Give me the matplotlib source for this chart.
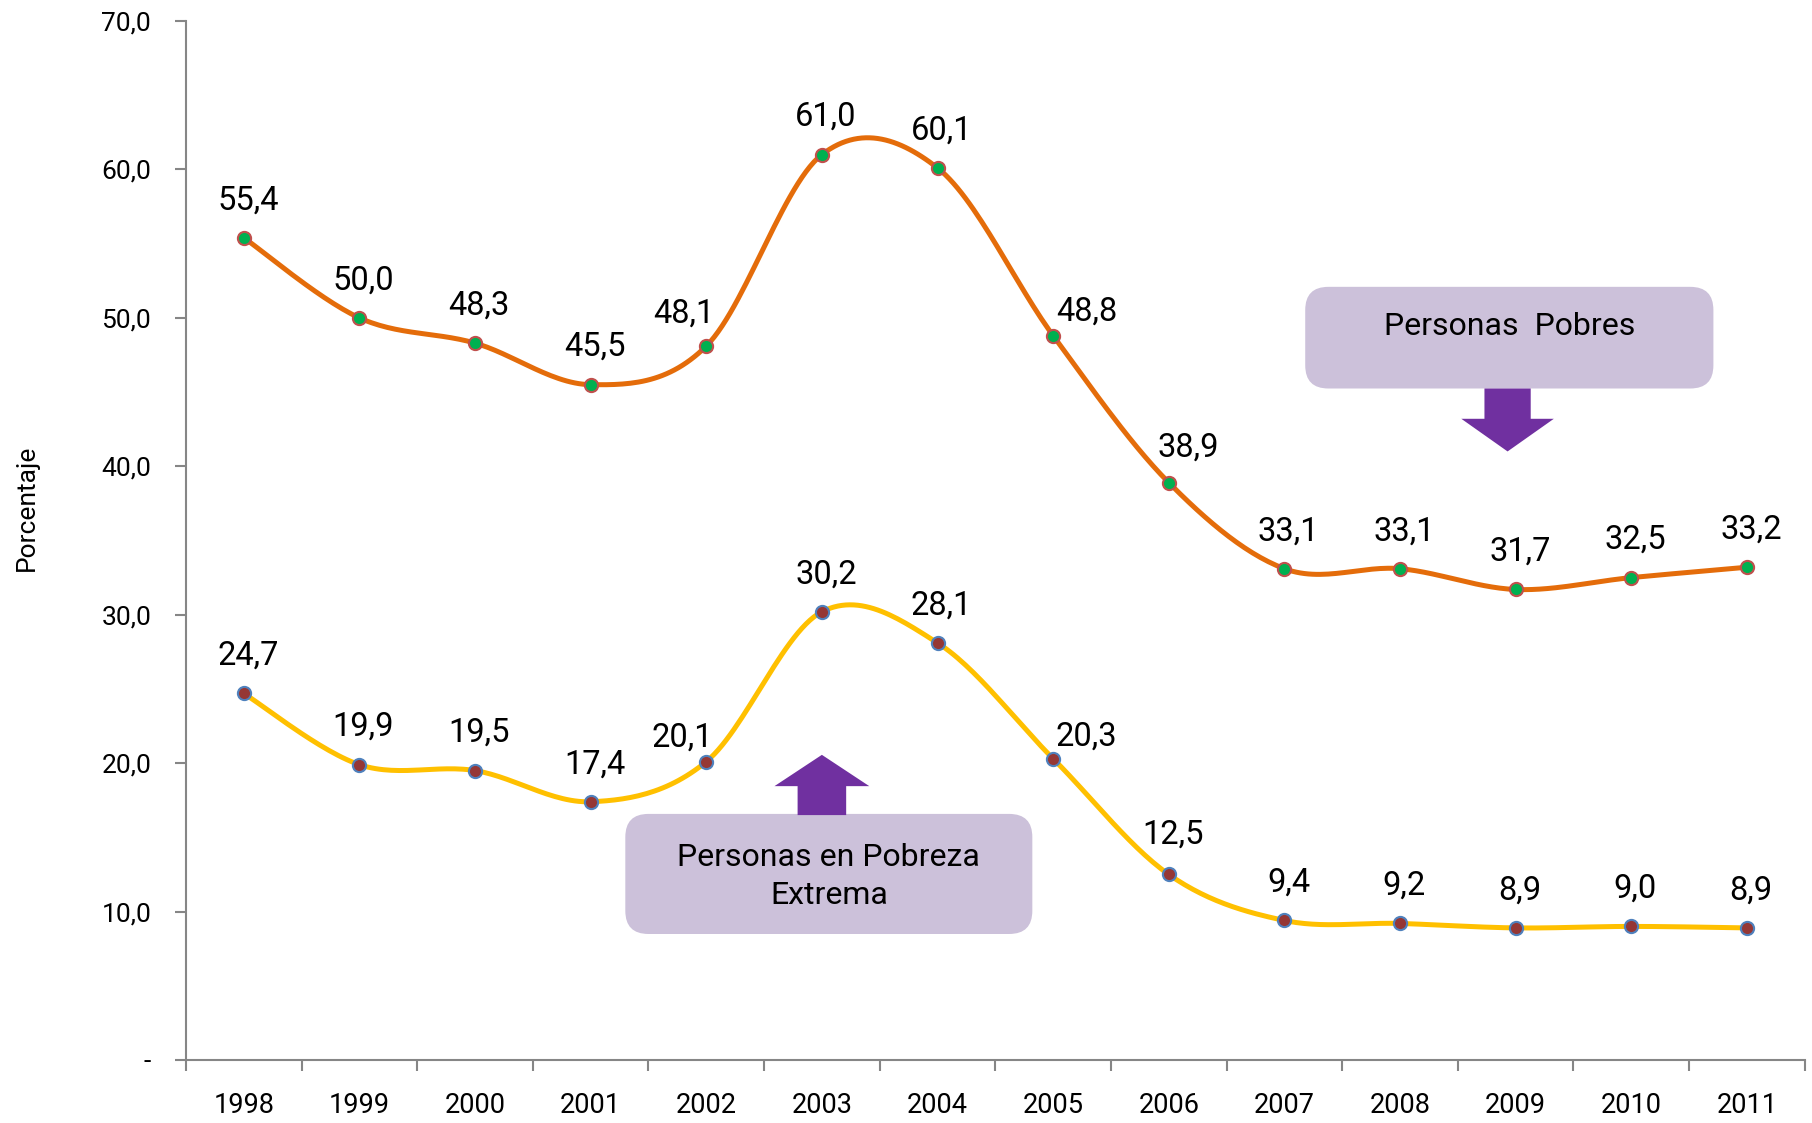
import numpy as np
import matplotlib
matplotlib.use("Agg")
import matplotlib.pyplot as plt
from matplotlib import font_manager
from matplotlib.patches import FancyBboxPatch, Polygon

years = ["1998", "1999", "2000", "2001", "2002", "2003", "2004",
         "2005", "2006", "2007", "2008", "2009", "2010", "2011"]
pobres = [55.4, 50.0, 48.3, 45.5, 48.1, 61.0, 60.1, 48.8, 38.9, 33.1, 33.1, 31.7, 32.5, 33.2]
extrema = [24.7, 19.9, 19.5, 17.4, 20.1, 30.2, 28.1, 20.3, 12.5, 9.4, 9.2, 8.9, 9.0, 8.9]
ytick_vals = [0, 10, 20, 30, 40, 50, 60, 70]
ytick_labels = ["-", "10,0", "20,0", "30,0", "40,0", "50,0", "60,0", "70,0"]

# label offsets (points), hand-placed like in the original
off_pobres = [(3, 27)] * 14
off_pobres[4] = (-16, 23)
off_pobres[7] = (24, 17)
off_pobres[8] = (14, 25)
off_extrema = [(3, 27)] * 14
off_extrema[4] = (-17, 17)
off_extrema[7] = (24, 16)
off_extrema[8] = (3, 29)

names = {f.name for f in font_manager.fontManager.ttflist}
if "Liberation Sans Narrow" in names:
    plt.rcParams["font.family"] = ["Liberation Sans Narrow", "DejaVu Sans"]
else:
    plt.rcParams["font.family"] = ["Roboto", "DejaVu Sans"]


def smooth(y, n=30):
    # bezier smoothing through every point, like a spreadsheet "smoothed line"
    y = np.asarray(y, float)
    x = np.arange(len(y), dtype=float)
    px = np.concatenate([[x[0]], x, [x[-1]]])
    py = np.concatenate([[y[0]], y, [y[-1]]])
    xs, ys = [], []
    t = np.linspace(0, 1, n)
    for i in range(len(y) - 1):
        p0 = np.array([px[i + 1], py[i + 1]])
        p3 = np.array([px[i + 2], py[i + 2]])
        c1 = p0 + (np.array([px[i + 2], py[i + 2]]) - np.array([px[i], py[i]])) / 6
        c2 = p3 - (np.array([px[i + 3], py[i + 3]]) - np.array([px[i + 1], py[i + 1]])) / 6
        b = ((1 - t) ** 3)[:, None] * p0 + (3 * (1 - t) ** 2 * t)[:, None] * c1 \
            + (3 * (1 - t) * t ** 2)[:, None] * c2 + (t ** 3)[:, None] * p3
        xs.append(b[:, 0])
        ys.append(b[:, 1])
    return np.concatenate(xs), np.concatenate(ys)


fig = plt.figure(figsize=(18.12, 11.23), dpi=100)
ax = fig.add_axes([0.1026, 0.0561, 0.8934, 0.9252])

x = np.arange(len(years))
for vals, lc, mfc, mec, offs in [
    (pobres, "#E46C0A", "#00B050", "#C0504D", off_pobres),
    (extrema, "#FFC000", "#953735", "#4F81BD", off_extrema),
]:
    sx, sy = smooth(vals)
    ax.plot(sx, sy, color=lc, lw=3.6, solid_capstyle="round", zorder=3)
    ax.plot(x, vals, ls="none", marker="o", ms=9.5, mfc=mfc, mec=mec, mew=1.5, zorder=4)
    for xi, v, o in zip(x, vals, offs):
        ax.annotate(f"{v:.1f}".replace(".", ","), (xi, v), xytext=o,
                    textcoords="offset points", ha="center", va="center",
                    fontsize=23.5, color="black", zorder=5)

ax.set_xlim(-0.5, len(years) - 0.5)
ax.set_ylim(0, 70)
ax.set_xticks(x)
ax.set_xticklabels(years, fontsize=19.5)
ax.set_xticks(np.arange(-0.5, len(years)), minor=True)
ax.tick_params(axis="x", which="major", length=0, pad=23)
ax.tick_params(axis="x", which="minor", length=8, width=1.5, color="#868686", direction="out")
ax.set_yticks(ytick_vals)
ax.set_yticklabels(ytick_labels, fontsize=19)
ax.tick_params(axis="y", length=8, width=1.5, color="#868686", pad=17)
ax.set_ylabel("Porcentaje", fontsize=19)
ax.yaxis.set_label_coords(-0.091, 0.531)
for s in ["top", "right"]:
    ax.spines[s].set_visible(False)
for s in ["left", "bottom"]:
    ax.spines[s].set_color("#868686")
    ax.spines[s].set_linewidth(1.5)

# callout boxes
asp = (100.08 / 12.843)
box_col = "#CCC1DA"
arrow_col = "#7030A0"
b1 = FancyBboxPatch((9.18, 45.24), 3.53, 6.85, boxstyle="round,pad=0,rounding_size=0.2",
                    mutation_aspect=asp, fc=box_col, ec="none", zorder=2)
ax.add_patch(b1)
ax.text(10.95, 49.44, "Personas  Pobres", ha="center", va="center", fontsize=23, zorder=3)
ax.add_patch(Polygon([(10.73, 45.24), (11.13, 45.24), (11.13, 43.2), (11.33, 43.2),
                      (10.93, 41.0), (10.53, 43.2), (10.73, 43.2)],
                     closed=True, fc=arrow_col, ec="none", zorder=2))

b2 = FancyBboxPatch((3.30, 8.49), 3.52, 8.09, boxstyle="round,pad=0,rounding_size=0.2",
                    mutation_aspect=asp, fc=box_col, ec="none", zorder=2)
ax.add_patch(b2)
ax.text(5.06, 12.38, "Personas en Pobreza\nExtrema", ha="center", va="center",
        fontsize=23, linespacing=1.4, zorder=3)
ax.add_patch(Polygon([(4.79, 16.5), (5.21, 16.5), (5.21, 18.45), (5.41, 18.45),
                      (5.0, 20.56), (4.59, 18.45), (4.79, 18.45)],
                     closed=True, fc=arrow_col, ec="none", zorder=2))

fig.savefig("out.png", dpi=100)
